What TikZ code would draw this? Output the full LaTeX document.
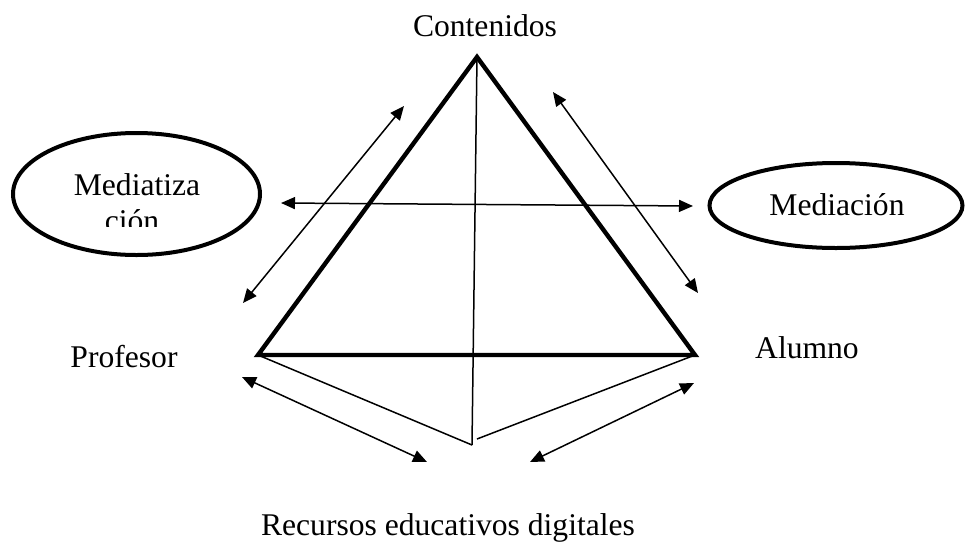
\documentclass[tikz,border=0pt]{standalone}
\usepackage{fontspec}
\setmainfont{Liberation Serif}
\usetikzlibrary{arrows.meta}
\begin{document}
\begin{tikzpicture}[x=0.5pt,y=-0.5pt,
  lbl/.style={inner sep=0pt,anchor=base,font=\fontsize{15.8}{19}\selectfont},
  tri/.style={line width=2.2pt,line join=miter},
  thin/.style={line width=0.75pt},
  dbl/.style={line width=0.75pt,{Triangle[length=7pt,width=6pt]}-{Triangle[length=7pt,width=6pt]}},
  ell/.style={draw,line width=2pt,ellipse}]
\useasboundingbox (0,0) rectangle (966,542);
% triangle vertices
\coordinate (A) at (477,57);
\coordinate (P) at (258,355);
\coordinate (L) at (695,355);
\coordinate (R1) at (472,445);
\coordinate (R2) at (477,439);
\draw[tri] (A) -- (P) -- (L) -- cycle;
\draw[thin] (A) -- (R1);
\draw[thin] (P) -- (R1);
\draw[thin] (L) -- (R2);
% ellipses
\draw[line width=2pt] (136.5,194) ellipse [x radius=123.5, y radius=61];
\draw[line width=2pt] (836,205.5) ellipse [x radius=126.5, y radius=42.5];
% labels
\node[lbl] (cont) at (485,36) {Contenidos};
\begin{scope}
\clip (20,150) rectangle (250,226);
\node[lbl] (med1) at (137,195) {Mediatiza};
\node[lbl] (med2) at (132,231) {ción};
\end{scope}
\node[lbl] (medn) at (837,215) {Mediación};
\node[lbl] (prof) at (124,367) {Profesor};
\node[lbl] (alum) at (807,358) {Alumno};
\node[lbl] (rec) at (448,535) {Recursos educativos digitales};
% arrows
\coordinate (h1) at (281,203);
\coordinate (h2) at (693,206);
\coordinate (l1) at (404,106);
\coordinate (l2) at (243,303);
\coordinate (r1) at (553,92);
\coordinate (r2) at (698,293);
\coordinate (b1) at (242,377);
\coordinate (b2) at (427,462);
\coordinate (c1) at (530,462);
\coordinate (c2) at (694,383);
\draw[dbl] (h1) -- (h2);
\draw[dbl] (l1) -- (l2);
\draw[dbl] (r1) -- (r2);
\draw[dbl] (b1) -- (b2);
\draw[dbl] (c1) -- (c2);
\end{tikzpicture}
\end{document}
